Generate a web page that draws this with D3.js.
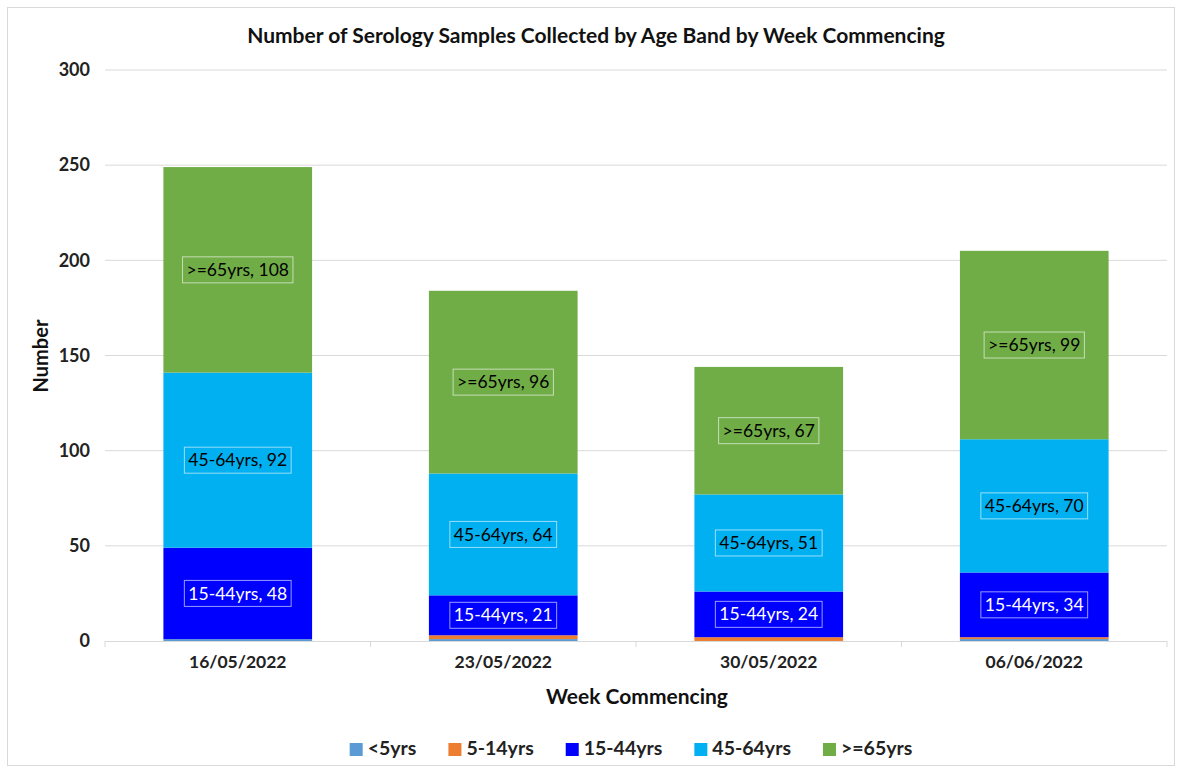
<!DOCTYPE html>
<html><head><meta charset="utf-8">
<script src="https://cdn.jsdelivr.net/npm/d3@7"></script>
<style>body{margin:0;background:#fff}svg{display:block}</style>
</head><body><svg id="c" width="1181" height="772"></svg>
<script>
const weeks = ["16/05/2022","23/05/2022","30/05/2022","06/06/2022"];
const bands = ["<5yrs","5-14yrs","15-44yrs","45-64yrs",">=65yrs"];
const under5 = [1,1,0,1];
const age5to14 = [0,2,2,1];
const age15to44 = [48,21,24,34];
const age45to64 = [92,64,51,70];
const age65plus = [108,96,67,99];
const yTicks = [0,50,100,150,200,250,300];
const colors = ["#5B9BD5","#ED7D31","#0000FF","#00B0F0","#70AD47"];
const labelShown = [false,false,true,true,true];
const labelColor = ["#000","#000","#fff","#000","#000"];

const series = [under5, age5to14, age15to44, age45to64, age65plus];
const rows = weeks.map((w,i)=>{const r={week:w}; bands.forEach((b,j)=>r[b]=series[j][i]); return r;});
const stack = d3.stack().keys(bands)(rows);

const svg = d3.select("#c");
const font = "Lato, 'Open Sans', sans-serif";
svg.append("rect").attr("x",7.5).attr("y",7.5).attr("width",1167).attr("height",758)
  .attr("fill","#fff").attr("stroke","#d9d9d9");

const L=105,R=1167,T=70,B=641;
const x = d3.scaleBand().domain(weeks).range([L,R]).paddingInner(0.44).paddingOuter(0.22);
const y = d3.scaleLinear().domain([0,300]).range([B,T]);

// gridlines
svg.append("g").selectAll("line").data(yTicks.filter(t=>t>0)).join("line")
  .attr("x1",L).attr("x2",R).attr("y1",d=>y(d)).attr("y2",d=>y(d))
  .attr("stroke","#d9d9d9").attr("stroke-width",1);

// y axis labels
const ya = svg.append("g").attr("transform",`translate(${L},0)`)
  .call(d3.axisLeft(y).tickValues(yTicks).tickSize(0).tickPadding(15));
ya.select(".domain").remove();
ya.selectAll("text").attr("font-family",font).attr("font-weight","bold").attr("font-size",18).attr("fill","#222");

// bars
const g = svg.append("g");
stack.forEach((s,j)=>{
  g.append("g").attr("fill",colors[j]).selectAll("rect").data(s).join("rect")
    .attr("x",d=>x(d.data.week)).attr("width",x.bandwidth())
    .attr("y",d=>y(d[1])).attr("height",d=>y(d[0])-y(d[1]));
});

// x axis line and ticks
svg.append("line").attr("x1",L).attr("x2",R).attr("y1",B+0.5).attr("y2",B+0.5).attr("stroke","#d9d9d9");
const bounds = d3.range(weeks.length+1).map(i=>L+i*(R-L)/weeks.length);
svg.append("g").selectAll("line").data(bounds).join("line")
  .attr("x1",d=>d).attr("x2",d=>d).attr("y1",B).attr("y2",B+6).attr("stroke","#d9d9d9");
svg.append("g").selectAll("text").data(weeks).join("text")
  .attr("x",d=>x(d)+x.bandwidth()/2).attr("y",668).attr("text-anchor","middle")
  .attr("font-family",font).attr("font-weight","bold").attr("font-size",17.5).attr("fill","#222").text(d=>d);

// labels
stack.forEach((s,j)=>{
  if(!labelShown[j]) return;
  s.forEach(d=>{
    const v = d[1]-d[0];
    const cx = x(d.data.week)+x.bandwidth()/2, cy = y((d[0]+d[1])/2);
    const t = svg.append("text").attr("x",cx).attr("y",cy).attr("dy","0.35em").attr("text-anchor","middle")
      .attr("font-family",font).attr("font-size",17.5).attr("fill",labelColor[j]).text(`${bands[j]}, ${v}`);
    const bb = t.node().getBBox();
    svg.insert("rect", () => t.node()).attr("x",bb.x-4).attr("y",cy-13).attr("width",bb.width+8).attr("height",26)
      .attr("fill","none").attr("stroke","rgba(255,255,255,0.6)").attr("stroke-width",1);
  });
});

// titles
svg.append("text").attr("x",596).attr("y",43).attr("text-anchor","middle").attr("font-family",font)
  .attr("font-weight","bold").attr("font-size",21).attr("fill","#111").text("Number of Serology Samples Collected by Age Band by Week Commencing");
svg.append("text").attr("x",637).attr("y",704).attr("text-anchor","middle").attr("font-family",font)
  .attr("font-weight","bold").attr("font-size",21).attr("fill","#111").text("Week Commencing");
svg.append("text").attr("transform","translate(48,356) rotate(-90)").attr("text-anchor","middle").attr("font-family",font)
  .attr("font-weight","bold").attr("font-size",20).attr("fill","#111").text("Number");

// legend
const lg = svg.append("g");
const items = bands.map((b,j)=>{
  const it = lg.append("g");
  it.append("rect").attr("x",0).attr("y",-12).attr("width",13).attr("height",13).attr("fill",colors[j]);
  const t = it.append("text").attr("x",18).attr("y",0).attr("font-family",font).attr("font-weight","bold")
    .attr("font-size",19.5).attr("fill","#222").text(b);
  return {it, w: 18 + t.node().getComputedTextLength()};
});
const gap = 32;
const total = d3.sum(items,d=>d.w) + gap*(items.length-1);
let cur = 631 - total/2;
items.forEach(d=>{ d.it.attr("transform",`translate(${cur},755)`); cur += d.w + gap; });
</script></body></html>
